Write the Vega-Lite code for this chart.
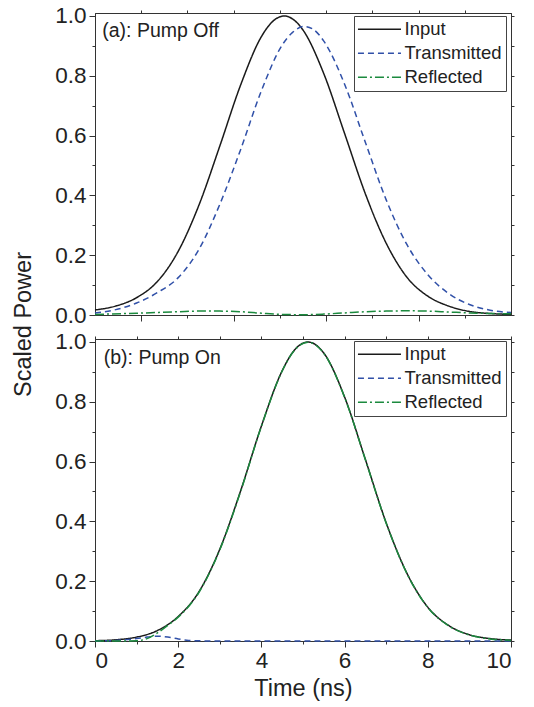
{
  "$schema": "https://vega.github.io/schema/vega-lite/v6.json",
  "padding": {"left": 10, "top": 4, "right": 10, "bottom": 6},
  "bounds": "flush",
  "spacing": 24,
  "config": {
    "font": "Liberation Sans",
    "view": {"stroke": "#333", "strokeWidth": 1},
    "axis": {"domainColor": "#333", "tickColor": "#333", "labelColor": "#222", "titleColor": "#222", "labelFont": "Liberation Sans", "titleFont": "Liberation Sans", "labelFontSize": 22.5, "titleFontSize": 23.5, "titleFontWeight": "normal", "grid": false, "domainWidth": 1, "tickWidth": 1}
  },
  "datasets": {
    "curves": [
      {"panel":"a","series":"Input","t":0,"p":0.017},
      {"panel":"a","series":"Input","t":0.5,"p":0.03},
      {"panel":"a","series":"Input","t":1,"p":0.058},
      {"panel":"a","series":"Input","t":1.5,"p":0.112},
      {"panel":"a","series":"Input","t":2,"p":0.213},
      {"panel":"a","series":"Input","t":2.5,"p":0.368},
      {"panel":"a","series":"Input","t":3,"p":0.565},
      {"panel":"a","series":"Input","t":3.5,"p":0.769},
      {"panel":"a","series":"Input","t":4,"p":0.931},
      {"panel":"a","series":"Input","t":4.25,"p":0.979},
      {"panel":"a","series":"Input","t":4.55,"p":1.0},
      {"panel":"a","series":"Input","t":4.75,"p":0.99},
      {"panel":"a","series":"Input","t":5,"p":0.953},
      {"panel":"a","series":"Input","t":5.5,"p":0.807},
      {"panel":"a","series":"Input","t":6,"p":0.607},
      {"panel":"a","series":"Input","t":6.5,"p":0.405},
      {"panel":"a","series":"Input","t":7,"p":0.24},
      {"panel":"a","series":"Input","t":7.5,"p":0.126},
      {"panel":"a","series":"Input","t":8,"p":0.063},
      {"panel":"a","series":"Input","t":8.5,"p":0.03},
      {"panel":"a","series":"Input","t":9,"p":0.012},
      {"panel":"a","series":"Input","t":9.5,"p":0.005},
      {"panel":"a","series":"Input","t":10,"p":0.002},
      {"panel":"a","series":"Transmitted","t":0,"p":0.007},
      {"panel":"a","series":"Transmitted","t":0.5,"p":0.018},
      {"panel":"a","series":"Transmitted","t":1,"p":0.04},
      {"panel":"a","series":"Transmitted","t":1.5,"p":0.075},
      {"panel":"a","series":"Transmitted","t":2,"p":0.125},
      {"panel":"a","series":"Transmitted","t":2.5,"p":0.22},
      {"panel":"a","series":"Transmitted","t":3,"p":0.37},
      {"panel":"a","series":"Transmitted","t":3.5,"p":0.553},
      {"panel":"a","series":"Transmitted","t":4,"p":0.75},
      {"panel":"a","series":"Transmitted","t":4.5,"p":0.903},
      {"panel":"a","series":"Transmitted","t":4.75,"p":0.945},
      {"panel":"a","series":"Transmitted","t":5.03,"p":0.965},
      {"panel":"a","series":"Transmitted","t":5.25,"p":0.955},
      {"panel":"a","series":"Transmitted","t":5.5,"p":0.916},
      {"panel":"a","series":"Transmitted","t":6,"p":0.772},
      {"panel":"a","series":"Transmitted","t":6.5,"p":0.577},
      {"panel":"a","series":"Transmitted","t":7,"p":0.385},
      {"panel":"a","series":"Transmitted","t":7.5,"p":0.235},
      {"panel":"a","series":"Transmitted","t":8,"p":0.135},
      {"panel":"a","series":"Transmitted","t":8.5,"p":0.072},
      {"panel":"a","series":"Transmitted","t":9,"p":0.035},
      {"panel":"a","series":"Transmitted","t":9.5,"p":0.016},
      {"panel":"a","series":"Transmitted","t":10,"p":0.008},
      {"panel":"a","series":"Reflected","t":0,"p":0.002},
      {"panel":"a","series":"Reflected","t":1,"p":0.006},
      {"panel":"a","series":"Reflected","t":2,"p":0.011},
      {"panel":"a","series":"Reflected","t":2.5,"p":0.013},
      {"panel":"a","series":"Reflected","t":3,"p":0.013},
      {"panel":"a","series":"Reflected","t":3.5,"p":0.011},
      {"panel":"a","series":"Reflected","t":4,"p":0.006},
      {"panel":"a","series":"Reflected","t":4.5,"p":0.002},
      {"panel":"a","series":"Reflected","t":5,"p":0.001},
      {"panel":"a","series":"Reflected","t":5.5,"p":0.003},
      {"panel":"a","series":"Reflected","t":6,"p":0.007},
      {"panel":"a","series":"Reflected","t":6.5,"p":0.011},
      {"panel":"a","series":"Reflected","t":7,"p":0.013},
      {"panel":"a","series":"Reflected","t":7.5,"p":0.014},
      {"panel":"a","series":"Reflected","t":8,"p":0.013},
      {"panel":"a","series":"Reflected","t":8.5,"p":0.01},
      {"panel":"a","series":"Reflected","t":9,"p":0.007},
      {"panel":"a","series":"Reflected","t":9.5,"p":0.005},
      {"panel":"a","series":"Reflected","t":10,"p":0.004},
      {"panel":"b","series":"Input","t":0,"p":0.001},
      {"panel":"b","series":"Input","t":0.5,"p":0.004},
      {"panel":"b","series":"Input","t":1,"p":0.013},
      {"panel":"b","series":"Input","t":1.5,"p":0.035},
      {"panel":"b","series":"Input","t":2,"p":0.082},
      {"panel":"b","series":"Input","t":2.5,"p":0.165},
      {"panel":"b","series":"Input","t":3,"p":0.307},
      {"panel":"b","series":"Input","t":3.5,"p":0.502},
      {"panel":"b","series":"Input","t":4,"p":0.719},
      {"panel":"b","series":"Input","t":4.5,"p":0.904},
      {"panel":"b","series":"Input","t":4.8,"p":0.974},
      {"panel":"b","series":"Input","t":5.12,"p":1.0},
      {"panel":"b","series":"Input","t":5.5,"p":0.963},
      {"panel":"b","series":"Input","t":6,"p":0.816},
      {"panel":"b","series":"Input","t":6.5,"p":0.607},
      {"panel":"b","series":"Input","t":7,"p":0.395},
      {"panel":"b","series":"Input","t":7.5,"p":0.226},
      {"panel":"b","series":"Input","t":8,"p":0.113},
      {"panel":"b","series":"Input","t":8.5,"p":0.052},
      {"panel":"b","series":"Input","t":9,"p":0.021},
      {"panel":"b","series":"Input","t":9.5,"p":0.008},
      {"panel":"b","series":"Input","t":10,"p":0.003},
      {"panel":"b","series":"Transmitted","t":0,"p":0.0},
      {"panel":"b","series":"Transmitted","t":0.5,"p":0.002},
      {"panel":"b","series":"Transmitted","t":1,"p":0.008},
      {"panel":"b","series":"Transmitted","t":1.25,"p":0.013},
      {"panel":"b","series":"Transmitted","t":1.5,"p":0.016},
      {"panel":"b","series":"Transmitted","t":1.75,"p":0.013},
      {"panel":"b","series":"Transmitted","t":2,"p":0.007},
      {"panel":"b","series":"Transmitted","t":2.25,"p":0.002},
      {"panel":"b","series":"Transmitted","t":2.5,"p":0.0005},
      {"panel":"b","series":"Transmitted","t":3,"p":0.0},
      {"panel":"b","series":"Transmitted","t":4,"p":0.0},
      {"panel":"b","series":"Transmitted","t":5,"p":0.0},
      {"panel":"b","series":"Transmitted","t":6,"p":0.0},
      {"panel":"b","series":"Transmitted","t":7,"p":0.0},
      {"panel":"b","series":"Transmitted","t":8,"p":0.0},
      {"panel":"b","series":"Transmitted","t":9,"p":0.0},
      {"panel":"b","series":"Transmitted","t":10,"p":0.0},
      {"panel":"b","series":"Reflected","t":0,"p":0.0},
      {"panel":"b","series":"Reflected","t":0.5,"p":0.0},
      {"panel":"b","series":"Reflected","t":1,"p":0.001},
      {"panel":"b","series":"Reflected","t":1.25,"p":0.008},
      {"panel":"b","series":"Reflected","t":1.5,"p":0.027},
      {"panel":"b","series":"Reflected","t":1.75,"p":0.052},
      {"panel":"b","series":"Reflected","t":2,"p":0.08},
      {"panel":"b","series":"Reflected","t":2.5,"p":0.163},
      {"panel":"b","series":"Reflected","t":3,"p":0.305},
      {"panel":"b","series":"Reflected","t":3.5,"p":0.5},
      {"panel":"b","series":"Reflected","t":4,"p":0.718},
      {"panel":"b","series":"Reflected","t":4.5,"p":0.903},
      {"panel":"b","series":"Reflected","t":4.8,"p":0.973},
      {"panel":"b","series":"Reflected","t":5.12,"p":0.999},
      {"panel":"b","series":"Reflected","t":5.5,"p":0.962},
      {"panel":"b","series":"Reflected","t":6,"p":0.815},
      {"panel":"b","series":"Reflected","t":6.5,"p":0.606},
      {"panel":"b","series":"Reflected","t":7,"p":0.394},
      {"panel":"b","series":"Reflected","t":7.5,"p":0.225},
      {"panel":"b","series":"Reflected","t":8,"p":0.112},
      {"panel":"b","series":"Reflected","t":8.5,"p":0.051},
      {"panel":"b","series":"Reflected","t":9,"p":0.02},
      {"panel":"b","series":"Reflected","t":9.5,"p":0.007},
      {"panel":"b","series":"Reflected","t":10,"p":0.002}
    ],
    "notes": [
      {"panel":"a","t":0.175,"p":0.951,"label":"(a): Pump Off"},
      {"panel":"b","t":0.21,"p":0.947,"label":"(b): Pump On"}
    ]
  },
  "vconcat": [
    {
      "width": 416,
      "height": 302,
      "layer": [
        {
          "data": {"name": "curves"},
          "transform": [{"filter": "datum.panel == 'a'"}],
          "mark": {"type": "line", "interpolate": "monotone", "strokeWidth": 1.5},
          "encoding": {
            "x": {"field": "t", "type": "quantitative", "scale": {"domain": [0, 10], "nice": false, "zero": false},
              "axis": {"orient": "bottom", "values": [1.1111, 2.2222, 3.3333, 4.4444, 5.5556, 6.6667, 7.7778, 8.8889], "labels": false, "title": null,
                "tickSize": {"condition": {"test": "round(datum.value*0.9) % 2 == 1", "value": 6}, "value": 3}}},
            "y": {"field": "p", "type": "quantitative", "scale": {"domain": [0, 1.01], "nice": false, "zero": false},
              "axis": {"orient": "left", "values": [0, 0.1, 0.2, 0.3, 0.4, 0.5, 0.6, 0.7, 0.8, 0.9, 1.0],
                "labelExpr": "round(datum.value*10) % 2 == 0 ? format(datum.value, '.1f') : ''",
                "tickSize": {"condition": {"test": "round(datum.value*10) % 2 == 0", "value": 6}, "value": 3},
                "labelPadding": 3,
                "title": "Scaled Power", "titleAngle": -90, "titleX": -72, "titleY": 311, "titleAlign": "center", "titleBaseline": "middle"}},
            "color": {"field": "series", "type": "nominal",
              "scale": {"domain": ["Input", "Transmitted", "Reflected"], "range": ["#1a1a1a", "#3050a8", "#1b8a3e"]},
              "legend": {"orient": "none", "legendX": 259, "legendY": 3, "title": null, "strokeColor": "#444", "fillColor": "white", "padding": 4, "symbolType": "M-2.16,0H7.84", "symbolSize": 74, "symbolStrokeWidth": 1.4, "labelFontSize": 18.5, "labelFont": "Liberation Sans", "labelColor": "#222", "labelOffset": 28, "rowPadding": 5}},
            "strokeDash": {"field": "series", "type": "nominal",
              "scale": {"domain": ["Input", "Transmitted", "Reflected"], "range": [[1, 0], [6, 4], [9, 3, 2, 3]]},
              "legend": {"orient": "none", "legendX": 259, "legendY": 3, "title": null, "strokeColor": "#444", "fillColor": "white", "padding": 4, "symbolType": "M-2.16,0H7.84", "symbolSize": 74, "symbolStrokeWidth": 1.4, "labelFontSize": 18.5, "labelFont": "Liberation Sans", "labelColor": "#222", "labelOffset": 28, "rowPadding": 5}}
          }
        },
        {
          "data": {"name": "notes"},
          "transform": [{"filter": "datum.panel == 'a'"}],
          "mark": {"type": "text", "align": "left", "baseline": "middle", "fontSize": 19.5, "color": "#222", "font": "Liberation Sans"},
          "encoding": {
            "x": {"field": "t", "type": "quantitative", "scale": {"domain": [0, 10], "nice": false, "zero": false},
              "axis": {"orient": "top", "values": [1.1111, 2.2222, 3.3333, 4.4444, 5.5556, 6.6667, 7.7778, 8.8889], "labels": false, "title": null, "tickSize": 3}},
            "y": {"field": "p", "type": "quantitative", "scale": {"domain": [0, 1.01], "nice": false, "zero": false},
              "axis": {"orient": "right", "values": [0, 0.1, 0.2, 0.3, 0.4, 0.5, 0.6, 0.7, 0.8, 0.9, 1.0], "labels": false, "title": null, "tickSize": 3}},
            "text": {"field": "label"}
          }
        }
      ],
      "resolve": {"axis": {"x": "independent", "y": "independent"}}
    },
    {
      "width": 416,
      "height": 302,
      "layer": [
        {
          "data": {"name": "curves"},
          "transform": [{"filter": "datum.panel == 'b'"}],
          "mark": {"type": "line", "interpolate": "monotone", "strokeWidth": 1.5},
          "encoding": {
            "x": {"field": "t", "type": "quantitative", "scale": {"domain": [0, 10], "nice": false, "zero": false},
              "axis": {"orient": "bottom", "values": [0, 1, 2, 3, 4, 5, 6, 7, 8, 9, 10],
                "labelExpr": "datum.value % 2 == 0 ? format(datum.value, 'd') : ''",
                "tickSize": {"condition": {"test": "datum.value % 2 == 0", "value": 6}, "value": 3},
                "labelPadding": 2, "title": "Time (ns)", "titlePadding": 5}},
            "y": {"field": "p", "type": "quantitative", "scale": {"domain": [0, 1.01], "nice": false, "zero": false},
              "axis": {"orient": "left", "values": [0, 0.1, 0.2, 0.3, 0.4, 0.5, 0.6, 0.7, 0.8, 0.9, 1.0],
                "labelExpr": "round(datum.value*10) % 2 == 0 ? format(datum.value, '.1f') : ''",
                "tickSize": {"condition": {"test": "round(datum.value*10) % 2 == 0", "value": 6}, "value": 3},
                "labelPadding": 3, "title": null}},
            "color": {"field": "series", "type": "nominal",
              "scale": {"domain": ["Input", "Transmitted", "Reflected"], "range": ["#1a1a1a", "#3050a8", "#1b8a3e"]},
              "legend": {"orient": "none", "legendX": 259, "legendY": 2, "title": null, "strokeColor": "#444", "fillColor": "white", "padding": 4, "symbolType": "M-2.16,0H7.84", "symbolSize": 74, "symbolStrokeWidth": 1.4, "labelFontSize": 18.5, "labelFont": "Liberation Sans", "labelColor": "#222", "labelOffset": 28, "rowPadding": 5}},
            "strokeDash": {"field": "series", "type": "nominal",
              "scale": {"domain": ["Input", "Transmitted", "Reflected"], "range": [[1, 0], [6, 4], [9, 3, 2, 3]]},
              "legend": {"orient": "none", "legendX": 259, "legendY": 2, "title": null, "strokeColor": "#444", "fillColor": "white", "padding": 4, "symbolType": "M-2.16,0H7.84", "symbolSize": 74, "symbolStrokeWidth": 1.4, "labelFontSize": 18.5, "labelFont": "Liberation Sans", "labelColor": "#222", "labelOffset": 28, "rowPadding": 5}}
          }
        },
        {
          "data": {"name": "notes"},
          "transform": [{"filter": "datum.panel == 'b'"}],
          "mark": {"type": "text", "align": "left", "baseline": "middle", "fontSize": 19.5, "color": "#222", "font": "Liberation Sans"},
          "encoding": {
            "x": {"field": "t", "type": "quantitative", "scale": {"domain": [0, 10], "nice": false, "zero": false},
              "axis": {"orient": "top", "values": [0, 1, 2, 3, 4, 5, 6, 7, 8, 9, 10], "labels": false, "title": null, "tickSize": 3}},
            "y": {"field": "p", "type": "quantitative", "scale": {"domain": [0, 1.01], "nice": false, "zero": false},
              "axis": {"orient": "right", "values": [0, 0.1, 0.2, 0.3, 0.4, 0.5, 0.6, 0.7, 0.8, 0.9, 1.0], "labels": false, "title": null, "tickSize": 3}},
            "text": {"field": "label"}
          }
        }
      ],
      "resolve": {"axis": {"x": "independent", "y": "independent"}}
    }
  ],
  "resolve": {"scale": {"color": "independent", "strokeDash": "independent"}, "legend": {"color": "independent", "strokeDash": "independent"}}
}
